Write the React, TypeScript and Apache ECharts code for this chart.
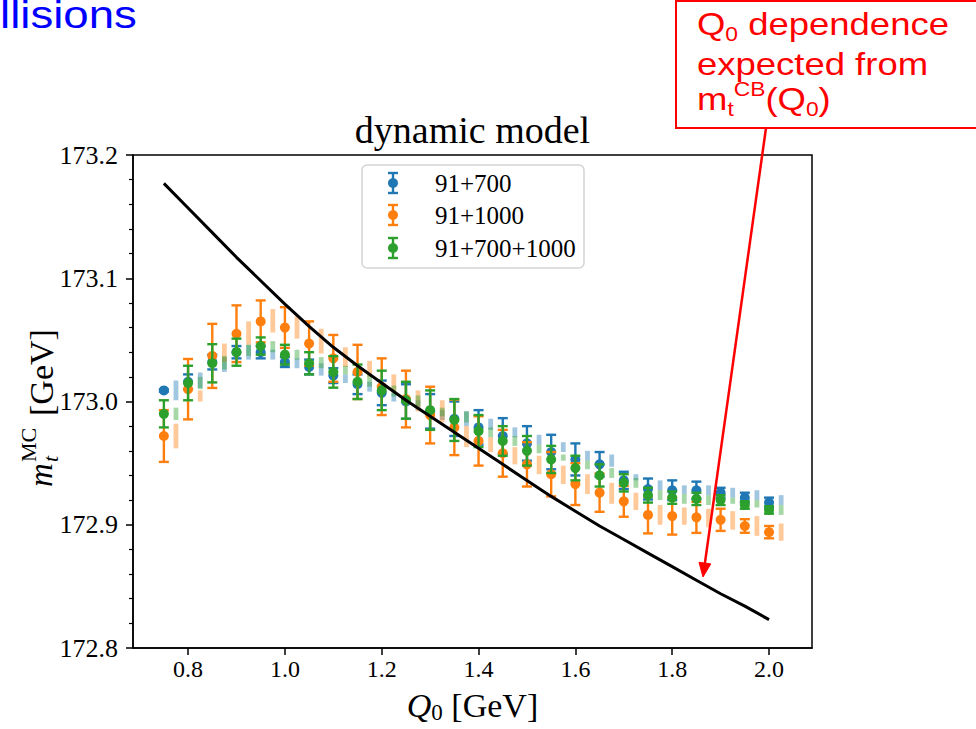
import React, { useEffect, useRef } from "react";
import * as echarts from "echarts";

// ---------- data ----------
const q0 = [0.75, 0.8, 0.85, 0.9, 0.95, 1.0, 1.05, 1.1, 1.15, 1.2, 1.25, 1.3, 1.35, 1.4, 1.45, 1.5, 1.55, 1.6, 1.65, 1.7, 1.75, 1.8, 1.85, 1.9, 1.95, 2.0];

const mt700 = [173.009, 173.016, 173.032, 173.040, 173.040, 173.032, 173.028, 173.021, 173.014, 173.007, 173.000, 172.992, 172.986, 172.979, 172.972, 172.966, 172.959, 172.953, 172.949, 172.936, 172.929, 172.928, 172.928, 172.926, 172.922, 172.918];
const err700 = [0.001, 0.006, 0.006, 0.005, 0.005, 0.004, 0.006, 0.006, 0.008, 0.010, 0.014, 0.014, 0.014, 0.014, 0.0145, 0.014, 0.014, 0.013, 0.010, 0.007, 0.0085, 0.008, 0.007, 0.004, 0.004, 0.004];

const mt1000 = [172.972, 173.010, 173.037, 173.055, 173.065, 173.060, 173.047, 173.035, 173.024, 173.012, 173.002, 172.989, 172.979, 172.968, 172.958, 172.949, 172.941, 172.933, 172.926, 172.919, 172.908, 172.907, 172.906, 172.904, 172.899, 172.894];
const err1000 = [0.021, 0.0245, 0.026, 0.023, 0.017, 0.0165, 0.018, 0.019, 0.022, 0.023, 0.023, 0.023, 0.0225, 0.020, 0.019, 0.018, 0.018, 0.017, 0.0155, 0.0125, 0.015, 0.015, 0.0126, 0.009, 0.0055, 0.005];

const mtComb = [172.990, 173.015, 173.031, 173.040, 173.045, 173.038, 173.031, 173.024, 173.016, 173.009, 173.001, 172.993, 172.985, 172.976, 172.968, 172.960, 172.953, 172.946, 172.940, 172.934, 172.924, 172.922, 172.921, 172.920, 172.916, 172.912];
const errComb = [0.011, 0.014, 0.0155, 0.011, 0.007, 0.008, 0.009, 0.0128, 0.014, 0.016, 0.015, 0.016, 0.017, 0.013, 0.012, 0.012, 0.011, 0.010, 0.009, 0.007, 0.006, 0.005, 0.005, 0.004, 0.003, 0.003];

const bandQ0 = [0.775, 0.825, 0.875, 0.925, 0.975, 1.025, 1.075, 1.125, 1.175, 1.225, 1.275, 1.325, 1.375, 1.425, 1.475, 1.525, 1.575, 1.625, 1.675, 1.725, 1.775, 1.825, 1.875, 1.925, 1.975, 2.025];
const band700Low = [173.001, 173.011, 173.024, 173.034, 173.034, 173.027, 173.021, 173.015, 173.008, 173.000, 172.993, 172.985, 172.980, 172.977, 172.971, 172.965, 172.959, 172.952, 172.947, 172.936, 172.928, 172.925, 172.924, 172.922, 172.920, 172.916];
const band700High = [173.017, 173.0235, 173.036, 173.046, 173.042, 173.035, 173.031, 173.022, 173.016, 173.007, 173.001, 172.993, 172.992, 172.986, 172.979, 172.973, 172.967, 172.960, 172.957, 172.941, 172.936, 172.932, 172.932, 172.930, 172.928, 172.924];
const band1000Low = [172.962, 173.000, 173.032, 173.046, 173.056, 173.051, 173.039, 173.028, 173.020, 173.008, 172.992, 172.983, 172.963, 172.959, 172.949, 172.941, 172.933, 172.925, 172.917, 172.912, 172.900, 172.900, 172.898, 172.896, 172.891, 172.887];
const band1000High = [172.982, 173.009, 173.047, 173.065, 173.075, 173.069, 173.059, 173.044, 173.033, 173.022, 173.009, 173.001, 172.980, 172.971, 172.963, 172.956, 172.948, 172.941, 172.934, 172.926, 172.916, 172.914, 172.913, 172.911, 172.907, 172.901];
const bandCombLow = [172.985, 173.010, 173.026, 173.037, 173.040, 173.034, 173.027, 173.022, 173.012, 173.004, 172.996, 172.988, 172.983, 172.971, 172.964, 172.958, 172.952, 172.945, 172.938, 172.930, 172.920, 172.917, 172.916, 172.917, 172.914, 172.908];
const bandCombHigh = [172.995, 173.020, 173.037, 173.046, 173.049, 173.042, 173.036, 173.029, 173.0215, 173.013, 173.005, 172.995, 172.992, 172.979, 172.972, 172.965, 172.957, 172.952, 172.946, 172.938, 172.928, 172.925, 172.924, 172.922, 172.920, 172.916];

const curveQ0 = [0.75, 0.8, 0.85, 0.9, 0.95, 1.0, 1.05, 1.1, 1.15, 1.2, 1.25, 1.3, 1.35, 1.4, 1.45, 1.5, 1.55, 1.6, 1.65, 1.7, 1.75, 1.8, 1.85, 1.9, 1.95, 2.0];
const curveMt = [173.177, 173.157, 173.137, 173.117, 173.098, 173.079, 173.061, 173.044, 173.029, 173.015, 173.001, 172.988, 172.975, 172.962, 172.949, 172.936, 172.923, 172.911, 172.899, 172.888, 172.877, 172.866, 172.855, 172.844, 172.834, 172.823];

const xTicks = [0.8, 1.0, 1.2, 1.4, 1.6, 1.8, 2.0];
const yTicks = [172.8, 172.9, 173.0, 173.1, 173.2];

const seriesNames = ["91+700", "91+1000", "91+700+1000"];
const seriesColors = ["#1f77b4", "#ff7f0e", "#2ca02c"];

const SERIF = "Liberation Serif";
const SANS = "Liberation Sans";

function errorSeries(name: string, color: string, ys: number[], errs: number[]) {
  return {
    type: "custom",
    name,
    z: 3,
    itemStyle: { color },
    data: q0.map((x, i) => [x, ys[i], errs[i]]),
    encode: { x: 0, y: 1 },
    renderItem: (params: any, api: any) => {
      const x = api.value(0);
      const y = api.value(1);
      const e = api.value(2);
      const c = api.coord([x, y]);
      const t = api.coord([x, y + e]);
      const b = api.coord([x, y - e]);
      const ls = { stroke: color, lineWidth: 2.4 };
      return {
        type: "group",
        children: [
          { type: "line", shape: { x1: c[0], y1: t[1], x2: c[0], y2: b[1] }, style: ls },
          { type: "line", shape: { x1: c[0] - 5, y1: t[1], x2: c[0] + 5, y2: t[1] }, style: ls },
          { type: "line", shape: { x1: c[0] - 5, y1: b[1], x2: c[0] + 5, y2: b[1] }, style: ls },
          { type: "circle", shape: { cx: c[0], cy: c[1], r: 5 }, style: { fill: color } },
        ],
      };
    },
  };
}

function bandSeries(color: string, lows: number[], highs: number[]) {
  return {
    type: "custom",
    z: 1,
    silent: true,
    data: bandQ0.map((x, i) => [x, lows[i], highs[i]]),
    encode: { x: 0, y: [1, 2] },
    renderItem: (params: any, api: any) => {
      const x = api.value(0);
      const lo = api.coord([x, api.value(1)]);
      const hi = api.coord([x, api.value(2)]);
      return {
        type: "rect",
        shape: { x: lo[0] - 2.4, y: hi[1], width: 4.8, height: lo[1] - hi[1] },
        style: { fill: color, opacity: 0.42 },
      };
    },
  };
}

// legend drawn as graphic (box + errorbar icons + labels)
function legendGraphic() {
  const left = 362;
  const top = 165;
  const rowY = [183, 215, 248];
  const iconX = 393;
  const textX = 435;
  const els: any[] = [
    {
      type: "rect",
      z: 20,
      shape: { x: left, y: top, width: 222, height: 103, r: 5 },
      style: { fill: "rgba(255,255,255,0.85)", stroke: "#d4d4d4", lineWidth: 1.5 },
    },
  ];
  seriesNames.forEach((n, i) => {
    const c = seriesColors[i];
    const y = rowY[i];
    const ls = { stroke: c, lineWidth: 2.4 };
    els.push(
      { type: "line", z: 21, shape: { x1: iconX, y1: y - 10, x2: iconX, y2: y + 10 }, style: ls },
      { type: "line", z: 21, shape: { x1: iconX - 5, y1: y - 10, x2: iconX + 5, y2: y - 10 }, style: ls },
      { type: "line", z: 21, shape: { x1: iconX - 5, y1: y + 10, x2: iconX + 5, y2: y + 10 }, style: ls },
      { type: "circle", z: 21, shape: { cx: iconX, cy: y, r: 5 }, style: { fill: c } },
      {
        type: "text",
        z: 21,
        x: textX,
        y: y,
        style: {
          text: n,
          font: "25px " + SERIF,
          fill: "#000",
          align: "left",
          textAlign: "left",
          verticalAlign: "middle",
          textVerticalAlign: "middle",
        },
      }
    );
  });
  return els;
}

export default function App() {
  const ref = useRef<HTMLDivElement>(null);

  useEffect(() => {
    if (!ref.current) return;
    const chart = echarts.init(ref.current, undefined, { renderer: "svg" });

    const axisLine = { show: true, lineStyle: { color: "#000", width: 1.5 } };
    const fmt = (v: number) => v.toFixed(1);

    const option: any = {
      animation: false,
      backgroundColor: "#fff",
      textStyle: { fontFamily: SERIF, color: "#000" },
      title: {
        text: "dynamic model",
        left: 472.5,
        top: 111,
        textAlign: "center",
        padding: 0,
        textStyle: { fontFamily: SERIF, fontSize: 38, fontWeight: "normal", color: "#000" },
      },
      grid: {
        left: 133,
        top: 155,
        width: 679,
        height: 497,
        show: true,
        borderColor: "#000",
        borderWidth: 1.5,
        backgroundColor: "transparent",
      },
      xAxis: {
        type: "value",
        min: 0.68625,
        max: 2.08875,
        name: "{i|Q}{s|0}{r| [GeV]}",
        nameLocation: "middle",
        nameGap: 38,
        nameTextStyle: {
          rich: {
            i: { fontFamily: SERIF, fontStyle: "italic", fontSize: 34, lineHeight: 38, color: "#000" },
            s: { fontFamily: SERIF, fontSize: 23, lineHeight: 20, verticalAlign: "bottom", color: "#000" },
            r: { fontFamily: SERIF, fontSize: 34, lineHeight: 38, color: "#000" },
          },
        },
        axisLine,
        splitLine: { show: false },
        axisTick: { show: true, customValues: xTicks, inside: false, length: 7, lineStyle: { color: "#000", width: 1.5 } },
        axisLabel: {
          customValues: xTicks,
          formatter: fmt,
          margin: 9,
          fontFamily: SERIF,
          fontSize: 24,
          color: "#000",
        },
      },
      yAxis: {
        type: "value",
        min: yTicks[0],
        max: yTicks[yTicks.length - 1],
        interval: 0.1,
        axisLine,
        splitLine: { show: false },
        axisTick: { show: true, inside: false, length: 7, lineStyle: { color: "#000", width: 1.5 } },
        minorTick: { show: true, splitNumber: 5, length: 4, lineStyle: { color: "#000", width: 1.2 } },
        minorSplitLine: { show: false },
        axisLabel: {
          formatter: fmt,
          margin: 15,
          fontFamily: SERIF,
          fontSize: 26,
          color: "#000",
        },
      },
      series: [
        bandSeries(seriesColors[0], band700Low, band700High),
        bandSeries(seriesColors[1], band1000Low, band1000High),
        bandSeries(seriesColors[2], bandCombLow, bandCombHigh),
        errorSeries(seriesNames[0], seriesColors[0], mt700, err700),
        errorSeries(seriesNames[1], seriesColors[1], mt1000, err1000),
        errorSeries(seriesNames[2], seriesColors[2], mtComb, errComb),
        {
          type: "line",
          name: "mtCB",
          z: 4,
          data: curveQ0.map((x, i) => [x, curveMt[i]]),
          showSymbol: false,
          symbol: "none",
          smooth: false,
          lineStyle: { color: "#000", width: 3 },
          silent: true,
        },
      ],
      graphic: [
        ...legendGraphic(),
        {
          type: "text",
          x: 0,
          y: 15,
          scaleX: 1.2,
          style: {
            text: "llisions",
            font: "38px " + SANS,
            fill: "#0000ff",
            align: "left",
            textAlign: "left",
            verticalAlign: "middle",
            textVerticalAlign: "middle",
          },
        },
        {
          type: "rect",
          shape: { x: 676, y: 1, width: 310, height: 127 },
          style: { fill: "#fff", stroke: "#ff0000", lineWidth: 2 },
          z: 10,
        },
        {
          type: "text",
          x: 697,
          y: 4,
          scaleX: 1.14,
          z: 11,
          style: {
            text: "{n|Q}{s|0}{n| dependence}",
            align: "left",
            verticalAlign: "top",
            textAlign: "left",
            textVerticalAlign: "top",
            rich: {
              n: { fontFamily: SANS, fontSize: 32, lineHeight: 40, fill: "#ff0000", color: "#ff0000" },
              s: { fontFamily: SANS, fontSize: 20, lineHeight: 16, verticalAlign: "bottom", fill: "#ff0000", color: "#ff0000" },
            },
          },
        },
        {
          type: "text",
          x: 697,
          y: 44,
          scaleX: 1.14,
          z: 11,
          style: {
            text: "{n|expected from}",
            align: "left",
            verticalAlign: "top",
            textAlign: "left",
            textVerticalAlign: "top",
            rich: {
              n: { fontFamily: SANS, fontSize: 32, lineHeight: 40, fill: "#ff0000", color: "#ff0000" },
            },
          },
        },
        {
          type: "text",
          x: 697,
          y: 79,
          scaleX: 1.14,
          z: 11,
          style: {
            text: "{n|m}{s|t}{p|CB}{n|(Q}{s2|0}{n|)}",
            align: "left",
            verticalAlign: "top",
            textAlign: "left",
            textVerticalAlign: "top",
            rich: {
              n: { fontFamily: SANS, fontSize: 32, lineHeight: 40, fill: "#ff0000", color: "#ff0000" },
              s: { fontFamily: SANS, fontSize: 20, lineHeight: 22, verticalAlign: "bottom", fill: "#ff0000", color: "#ff0000" },
              s2: { fontFamily: SANS, fontSize: 20, lineHeight: 16, verticalAlign: "bottom", fill: "#ff0000", color: "#ff0000" },
              p: { fontFamily: SANS, fontSize: 20, lineHeight: 28, verticalAlign: "top", fill: "#ff0000", color: "#ff0000" },
            },
          },
        },
        {
          type: "line",
          z: 11,
          shape: { x1: 766, y1: 128, x2: 704.5, y2: 566 },
          style: { stroke: "#ff0000", lineWidth: 2.5 },
        },
        {
          type: "polygon",
          z: 11,
          shape: { points: [[703, 577], [710.8, 563.9], [699.0, 562.3]] },
          style: { fill: "#ff0000", stroke: "#ff0000", lineWidth: 1 },
        },
        {
          type: "group",
          x: 41,
          y: 487,
          rotation: Math.PI / 2,
          children: [
            {
              type: "text",
              x: 0,
              y: 0,
              style: { text: "m", font: "italic 33px " + SERIF, fill: "#000", align: "left", textAlign: "left", verticalAlign: "middle", textVerticalAlign: "middle" },
            },
            {
              type: "text",
              x: 25,
              y: 9,
              style: { text: "t", font: "italic 22px " + SERIF, fill: "#000", align: "left", textAlign: "left", verticalAlign: "middle", textVerticalAlign: "middle" },
            },
            {
              type: "text",
              x: 25,
              y: -13,
              style: { text: "MC", font: "22px " + SERIF, fill: "#000", align: "left", textAlign: "left", verticalAlign: "middle", textVerticalAlign: "middle" },
            },
            {
              type: "text",
              x: 71,
              y: 0,
              style: { text: "[GeV]", font: "34px " + SERIF, fill: "#000", align: "left", textAlign: "left", verticalAlign: "middle", textVerticalAlign: "middle" },
            },
          ],
        },
      ],
    };

    chart.setOption(option);
    return () => chart.dispose();
  }, []);

  return (
    <div
      ref={ref}
      style={{ position: "absolute", left: 0, top: 0, width: 976, height: 729, background: "#fff" }}
    />
  );
}
